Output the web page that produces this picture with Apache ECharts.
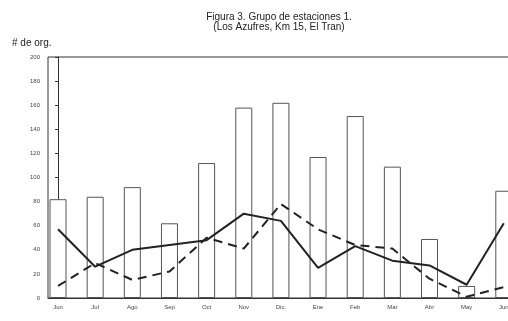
<!DOCTYPE html>
<html>
<head>
<meta charset="utf-8">
<script src="https://cdn.jsdelivr.net/npm/echarts@6/dist/echarts.min.js"></script>
<style>
html,body{margin:0;padding:0;background:#fff;}
#chart{width:508px;height:321px;}
</style>
</head>
<body>
<div id="chart"></div>
<script>
// meses (jun 1990 - jun 1991)
const meses = ['Jun','Jul','Ago','Sep','Oct','Nov','Dic.','Ene','Feb','Mar','Abr','May','Jun'];
// barras: # de organismos
const organismos = [82, 84, 92, 62, 112, 158, 162, 117, 151, 109, 49, 10, 89];
// linea continua
const lineaA = [57, 26, 40, 44, 48, 70, 64, 25, 43, 31, 27, 11, 62];
// linea discontinua
const lineaB = [10, 29, 15, 22, 50, 41, 78, 57, 44, 41, 16, 1, 9];
const ticksY = [0, 20, 40, 60, 80, 100, 120, 140, 160, 180, 200];

const idx = meses.map((m, i) => i);
const pares = arr => arr.map((v, i) => [i, v]);

const chart = echarts.init(document.getElementById('chart'));
chart.setOption({
  animation: false,
  backgroundColor: '#fff',
  textStyle: {fontFamily: 'Liberation Sans, Arial, sans-serif'},
  title: [
    {
      text: 'Figura 3. Grupo de estaciones 1.\n(Los Azufres, Km 15, El Tran)',
      left: 274, top: 7, textAlign: 'center',
      textStyle: {fontSize: 10, fontWeight: 'normal', color: '#222', lineHeight: 10}
    },
    {
      text: '# de org.',
      left: 7, top: 33,
      textStyle: {fontSize: 10, fontWeight: 'normal', color: '#222'}
    }
  ],
  grid: {left: 48, right: -14, top: 57, bottom: 23, show: true, borderColor: '#333', borderWidth: 1,
    outerBoundsMode: 'none'},
  xAxis: {
    type: 'value', min: -0.27, max: 12.49,
    axisLine: {show: true, lineStyle: {color: '#333'}},
    splitLine: {show: false},
    axisTick: {show: false},
    axisLabel: {
      customValues: idx,
      formatter: v => meses[v],
      fontSize: 6, color: '#444', margin: 6
    }
  },
  yAxis: {
    type: 'value', min: 0, max: 200, interval: 20,
    axisLine: {show: true, lineStyle: {color: '#333'}},
    axisTick: {show: true, length: 3, lineStyle: {color: '#333'}},
    splitLine: {show: false},
    axisLabel: {fontSize: 6, color: '#444', margin: 8,
      formatter: v => ticksY.includes(v) ? String(v) : ''}
  },
  series: [
    {
      type: 'bar', data: pares(organismos), barWidth: 17,
      itemStyle: {color: '#fff', borderColor: '#555', borderWidth: 1}
    },
    {
      type: 'line', data: pares(lineaA), symbol: 'none',
      lineStyle: {color: '#222', width: 2}
    },
    {
      type: 'line', data: pares(lineaB), symbol: 'none',
      lineStyle: {color: '#222', width: 2, type: [9, 6]}
    }
  ]
});
</script>
</body>
</html>
